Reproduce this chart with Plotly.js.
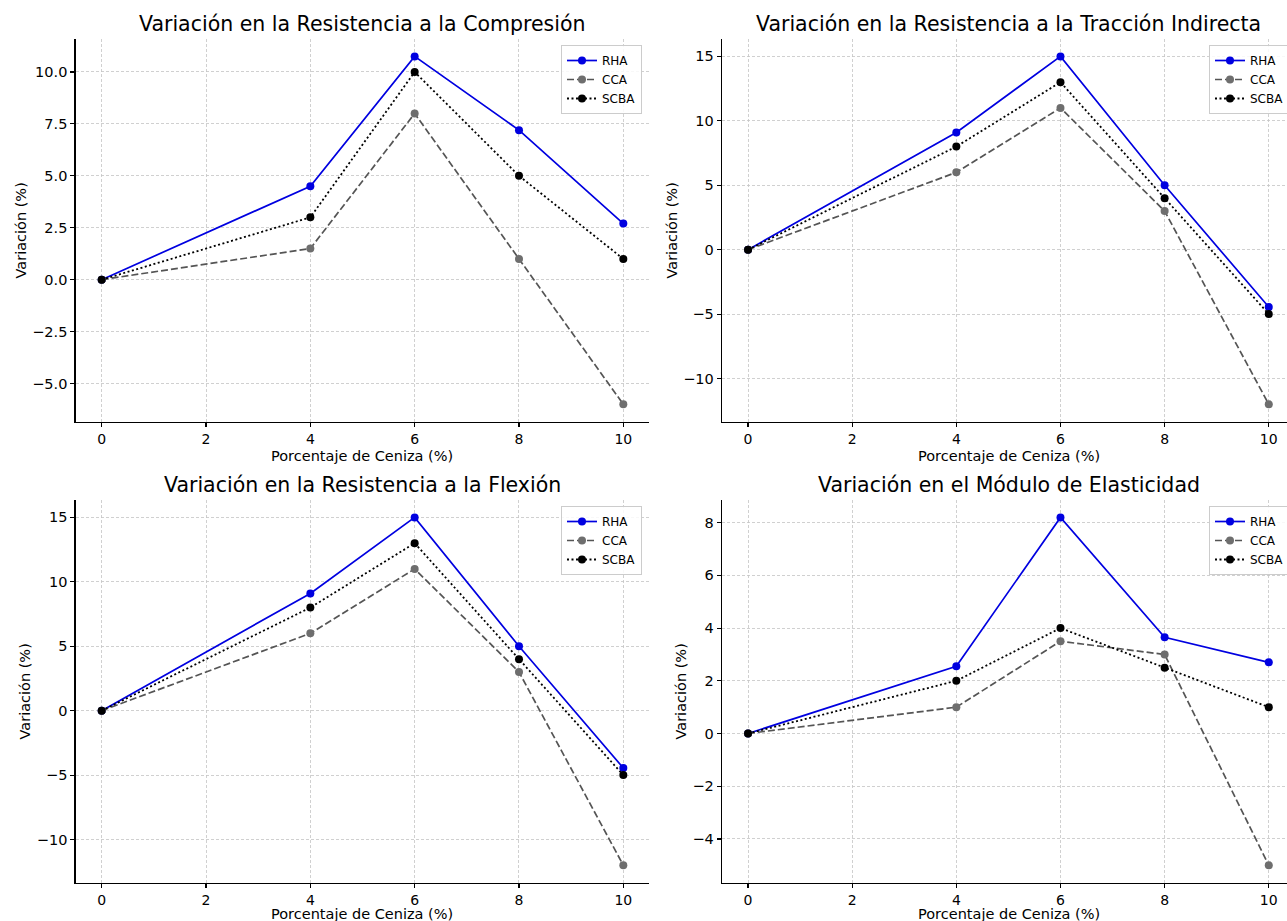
<!DOCTYPE html>
<html>
<head>
<meta charset="utf-8">
<script src="https://cdn.plot.ly/plotly-3.0.1.min.js"></script>
<style>
  html, body { margin: 0; padding: 0; background: #ffffff; overflow: hidden; }
  #chart { width: 1287px; height: 921px; }
</style>
</head>
<body>
<div id="chart"></div>
<script>
// ---- Data ----
const porcentaje = [0, 4, 6, 8, 10];
const seriesNames = ['RHA', 'CCA', 'SCBA'];

const compresionRHA = [0, 4.5, 10.75, 7.2, 2.7];
const compresionCCA = [0, 1.5, 8, 1, -6];
const compresionSCBA = [0, 3, 10, 5, 1];

const traccionRHA = [0, 9.1, 15, 5, -4.45];
const traccionCCA = [0, 6, 11, 3, -12];
const traccionSCBA = [0, 8, 13, 4, -5];

const flexionRHA = [0, 9.1, 15, 5, -4.45];
const flexionCCA = [0, 6, 11, 3, -12];
const flexionSCBA = [0, 8, 13, 4, -5];

const elasticidadRHA = [0, 2.55, 8.2, 3.65, 2.7];
const elasticidadCCA = [0, 1, 3.5, 3, -5];
const elasticidadSCBA = [0, 2, 4, 2.5, 1];

const subplotTitles = [
  'Variación en la Resistencia a la Compresión',
  'Variación en la Resistencia a la Tracción Indirecta',
  'Variación en la Resistencia a la Flexión',
  'Variación en el Módulo de Elasticidad'
];
const xTitle = 'Porcentaje de Ceniza (%)';
const yTitle = 'Variación (%)';
const xTicks = [0, 2, 4, 6, 8, 10];

// ---- Styles ----
const W = 1287, H = 921;
const FONT = 'DejaVu Sans, Liberation Sans, sans-serif';
const styles = [
  { color: '#0000e0', mcolor: '#0000e0', dash: 'solid', width: 1.7 },
  { color: '#555555', mcolor: '#6e6e6e', dash: '7px,3px', width: 1.7 },
  { color: '#000000', mcolor: '#000000', dash: '2px,2.5px', width: 1.8 }
];

const panels = [
  { data: [compresionRHA, compresionCCA, compresionSCBA], dtick: 2.5, fmt: '.1f' },
  { data: [traccionRHA, traccionCCA, traccionSCBA], dtick: 5, fmt: 'd' },
  { data: [flexionRHA, flexionCCA, flexionSCBA], dtick: 5, fmt: 'd' },
  { data: [elasticidadRHA, elasticidadCCA, elasticidadSCBA], dtick: 2, fmt: 'd' }
];

// pixel boxes for axes [left, right(visible), top, bottom] and x ranges
const boxes = [
  { l: 75.6, r: 649.4, t: 39, b: 421.7, xr: [-0.5, 10.5], cx: 362.5 },
  { l: 722, r: 1287, t: 39, b: 421.7, xr: [-0.5, 10.35], cx: 1008.5 },
  { l: 75.6, r: 649.4, t: 500, b: 882.7, xr: [-0.5, 10.5], cx: 362.5 },
  { l: 722, r: 1287, t: 500, b: 882.7, xr: [-0.5, 10.35], cx: 1008.5 }
];
const titleY = [24, 485];
const xTitleY = [456, 914];

const traces = [];
const layout = {
  width: W, height: H,
  margin: { l: 0, r: 0, t: 0, b: 0, autoexpand: false },
  paper_bgcolor: '#ffffff', plot_bgcolor: '#ffffff',
  font: { family: FONT, color: '#000000', size: 14 },
  annotations: []
};

panels.forEach((p, i) => {
  const n = i + 1;
  const xa = n === 1 ? 'x' : 'x' + n;
  const ya = n === 1 ? 'y' : 'y' + n;
  const lg = n === 1 ? 'legend' : 'legend' + n;
  const bx = boxes[i];
  const row = Math.floor(i / 2);

  p.data.forEach((vals, k) => {
    const s = styles[k];
    traces.push({
      type: 'scatter', mode: 'lines+markers',
      x: porcentaje, y: vals, name: seriesNames[k],
      xaxis: xa, yaxis: ya, legend: lg,
      line: { color: s.color, dash: s.dash, width: s.width },
      marker: { color: s.mcolor, size: 8, symbol: 'circle' },
      showlegend: true
    });
  });

  const all = [].concat(...p.data);
  const mn = Math.min(...all), mx = Math.max(...all);
  const pad = (mx - mn) * 0.05;

  const common = {
    showline: true, linecolor: '#000000', linewidth: 1.3, mirror: false,
    ticks: 'outside', ticklen: 4, tickwidth: 1.1, tickcolor: '#000000',
    showgrid: true, gridcolor: '#c4c4c4', gridwidth: 0.8, griddash: '3px,2px',
    zeroline: false, tickfont: { size: 14.5, family: FONT, color: '#000000' }
  };

  layout[n === 1 ? 'xaxis' : 'xaxis' + n] = Object.assign({}, common, {
    domain: [bx.l / W, bx.r / W], anchor: ya,
    range: bx.xr, tickmode: 'array', tickvals: xTicks,
    tickfont: { size: 14, family: FONT, color: '#000000' }
  });
  layout[n === 1 ? 'yaxis' : 'yaxis' + n] = Object.assign({}, common, {
    domain: [1 - bx.b / H, 1 - bx.t / H], anchor: xa,
    range: [mn - pad, mx + pad], tick0: 0, dtick: p.dtick, tickformat: p.fmt,
    title: { text: yTitle, font: { size: 14.5, family: FONT }, standoff: 2 }
  });

  layout[lg] = {
    x: (i % 2 === 0 ? 642 : 1290) / W, xanchor: 'right',
    y: 1 - (bx.t + 6) / H, yanchor: 'top',
    bgcolor: 'rgba(255,255,255,0.85)', bordercolor: '#cccccc', borderwidth: 1,
    font: { size: 12, family: FONT, color: '#000000' },
    itemwidth: 30, tracegroupgap: 0
  };

  // subplot title
  layout.annotations.push({
    text: subplotTitles[i], xref: 'paper', yref: 'paper',
    x: bx.cx / W, y: 1 - titleY[row] / H,
    xanchor: 'center', yanchor: 'middle', showarrow: false,
    font: { size: 20.5, family: FONT, color: '#000000' }
  });
  // x-axis title (placed as text below the tick labels)
  layout.annotations.push({
    text: xTitle, xref: 'paper', yref: 'paper',
    x: bx.cx / W, y: 1 - xTitleY[row] / H,
    xanchor: 'center', yanchor: 'middle', showarrow: false,
    borderpad: 0,
    font: { size: 14.5, family: FONT, color: '#000000' }
  });
});

Plotly.newPlot('chart', traces, layout, { displayModeBar: false, staticPlot: true });
</script>
</body>
</html>
